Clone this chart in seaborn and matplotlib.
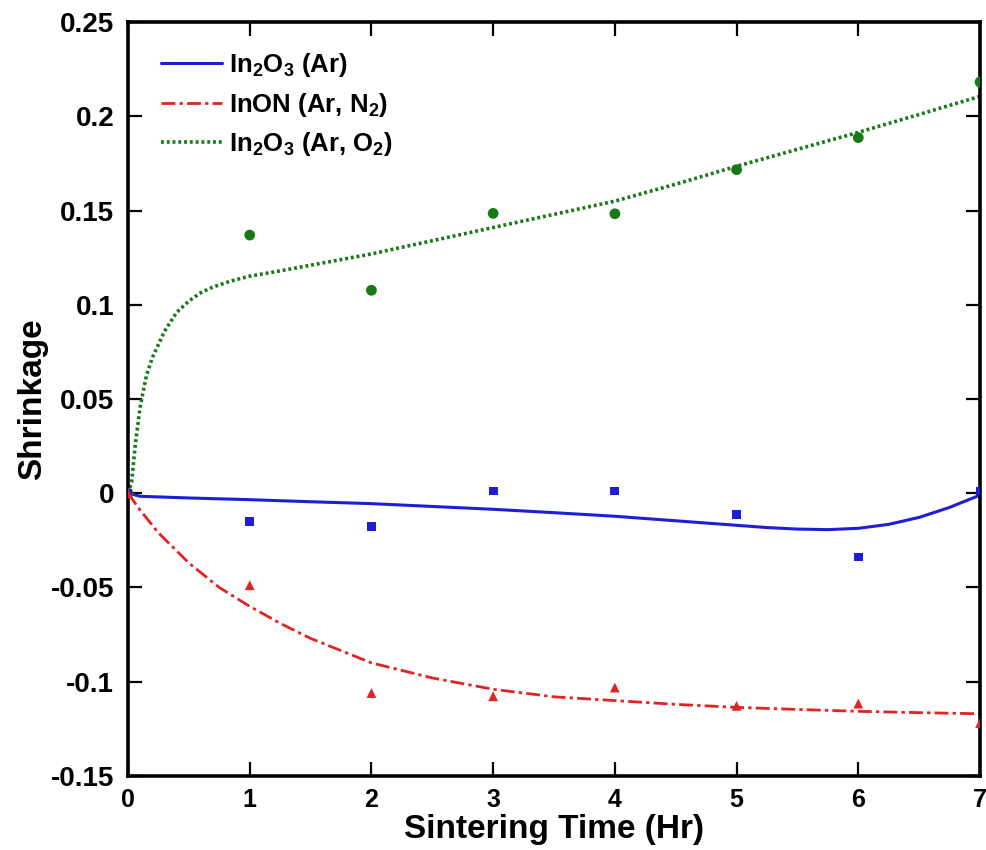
import numpy as np
import pandas as pd
import seaborn as sns
import matplotlib.pyplot as plt
from matplotlib.lines import Line2D

# measured points
t_pts = [0, 1, 2, 3, 4, 5, 6, 7]
ar_pts = [0, -0.0149, -0.0175, 0.0012, 0.0012, -0.0111, -0.0338, 0.0012]
n2_pts = [0, -0.0488, -0.1060, -0.1077, -0.1031, -0.1128, -0.1116, -0.1219]
o2_pts = [0, 0.1370, 0.1077, 0.1485, 0.1483, 0.1717, 0.1887, 0.2182]

# fitted curves
t_ar = [0, 0.1, 0.5, 1, 1.5, 2, 2.5, 3, 3.5, 4, 4.5, 5, 5.25, 5.5, 5.75, 6, 6.25, 6.5, 6.75, 7]
ar_fit = [0, -0.0016, -0.0025, -0.0034, -0.0045, -0.0055, -0.007, -0.0085, -0.0103, -0.0122,
          -0.0146, -0.017, -0.0182, -0.019, -0.0193, -0.0186, -0.0165, -0.0128, -0.0075, -0.001]

t_n2 = [0, 0.1, 0.25, 0.5, 0.75, 1, 1.25, 1.5, 2, 2.5, 3, 3.5, 4, 4.5, 5, 5.5, 6, 6.5, 7]
n2_fit = [0, -0.009, -0.021, -0.037, -0.050, -0.060, -0.069, -0.077, -0.090, -0.098, -0.104,
          -0.108, -0.110, -0.112, -0.1136, -0.1147, -0.1157, -0.1164, -0.117]

t_o2 = [0, 0.03, 0.06, 0.1, 0.15, 0.2, 0.3, 0.4, 0.5, 0.6, 0.7, 0.85, 1.0, 1.25, 1.5, 2, 2.5,
        3, 3.5, 4, 4.5, 5, 5.5, 6, 6.5, 7]
o2_fit = [0, 0.006, 0.026, 0.046, 0.062, 0.072, 0.086, 0.096, 0.102, 0.1065, 0.1095, 0.1127,
          0.1152, 0.118, 0.121, 0.127, 0.134, 0.141, 0.148, 0.155, 0.164, 0.1735, 0.1825,
          0.1915, 0.201, 0.2106]

labels = [r"In$_2$O$_3$ (Ar)", r"InON (Ar, N$_2$)", r"In$_2$O$_3$ (Ar, O$_2$)"]
yticks = [-0.15, -0.1, -0.05, 0, 0.05, 0.1, 0.15, 0.2, 0.25]
yticklabels = ["-0.15", "-0.1", "-0.05", "0", "0.05", "0.1", "0.15", "0.2", "0.25"]

sns.set_style("ticks")
plt.rcParams["font.family"] = ["Liberation Sans", "DejaVu Sans"]
plt.rcParams["font.weight"] = "bold"
plt.rcParams["text.color"] = "black"
plt.rcParams["axes.labelcolor"] = "black"
plt.rcParams["xtick.color"] = "black"
plt.rcParams["ytick.color"] = "black"
plt.rcParams["axes.edgecolor"] = "black"
plt.rcParams["mathtext.fontset"] = "custom"
plt.rcParams["mathtext.rm"] = "Liberation Sans:bold"
plt.rcParams["mathtext.default"] = "rm"

blue = "#1e1ed6"
red = "#e02424"
green = "#177a17"

fig = plt.figure(figsize=(9.87, 8.5), dpi=100)
ax = fig.add_axes([0.1297, 0.0871, 0.8632, 0.8869])

pts = pd.DataFrame({"t": t_pts, "ar": ar_pts, "n2": n2_pts, "o2": o2_pts})
sns.scatterplot(data=pts, x="t", y="o2", color=green, marker="o", s=60, edgecolor="none", ax=ax, zorder=3)
sns.scatterplot(data=pts, x="t", y="ar", color=blue, marker="s", s=40, edgecolor="none", ax=ax, zorder=3)
sns.scatterplot(data=pts, x="t", y="n2", color=red, marker="^", s=50, edgecolor="none", ax=ax, zorder=3)

sns.lineplot(x=t_ar, y=ar_fit, color=blue, linewidth=2.2, linestyle="-", ax=ax)
sns.lineplot(x=t_n2, y=n2_fit, color=red, linewidth=2.0, linestyle=(0, (5, 1.5, 1.2, 1.5)), ax=ax)
sns.lineplot(x=t_o2, y=o2_fit, color=green, linewidth=2.6, linestyle=(0, (0.8, 0.8)), ax=ax)

ax.set_xlim(0, 7)
ax.set_ylim(-0.15, 0.25)
ax.set_xticks(range(0, 8))
ax.set_yticks(yticks)
ax.set_yticklabels(yticklabels)
ax.tick_params(direction="in", length=10, width=1.6, top=True, right=True)
ax.tick_params(axis="x", labelsize=18, pad=9)
ax.tick_params(axis="y", labelsize=20, pad=10)
for sp in ax.spines.values():
    sp.set_linewidth(2.6)
ax.set_xlabel("Sintering Time (Hr)", fontsize=24, fontweight="bold", labelpad=1)
ax.set_ylabel("Shrinkage", fontsize=24, fontweight="bold", labelpad=2)

handles = [
    Line2D([], [], color=blue, linewidth=2.2, linestyle="-"),
    Line2D([], [], color=red, linewidth=2.0, linestyle=(0, (5, 1.5, 1.2, 1.5))),
    Line2D([], [], color=green, linewidth=2.6, linestyle=(0, (0.8, 0.8))),
]
ax.legend(handles, labels, loc="upper left", frameon=False, fontsize=18.5, handlelength=2.35,
          handletextpad=0.3, labelspacing=0.45, borderaxespad=0.0, bbox_to_anchor=(0.027, 0.975))

fig.savefig("out.png", dpi=100)
